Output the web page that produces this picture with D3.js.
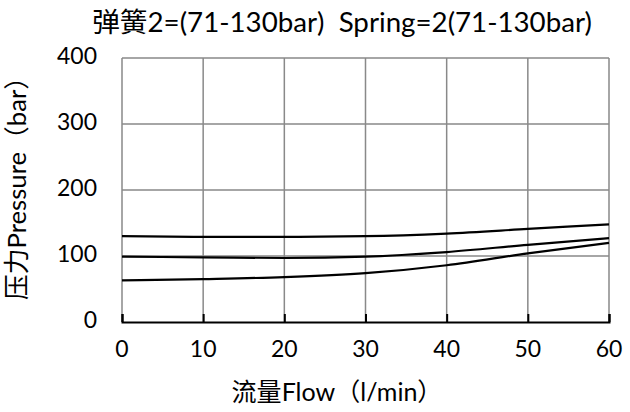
<!DOCTYPE html>
<html><head><meta charset="utf-8">
<script src="https://cdn.jsdelivr.net/npm/d3@7"></script>
<style>body{margin:0;background:#fff}</style>
</head><body>
<svg id="c" width="630" height="412"></svg>
<script>
const flow = [0, 10, 20, 30, 40, 50, 60];
const curveHigh = [130, 129, 129, 130, 134, 141, 148];
const curveMid = [99, 98, 97, 99, 106, 117, 127];
const curveLow = [63, 65, 68, 74, 86, 104, 120];
const xTicks = [0, 10, 20, 30, 40, 50, 60];
const yTicks = [0, 100, 200, 300, 400];
const title = "弹簧2=(71-130bar)  Spring=2(71-130bar)";
const xTitle = "流量Flow（l/min）";
const yTitle = "压力Pressure（bar）";

const svg = d3.select("#c");
const L = 122, R = 609, T = 58, B = 322;
const x = d3.scaleLinear().domain([0, 60]).range([L, R]);
const y = d3.scaleLinear().domain([0, 400]).range([B, T]);
const font = "Lato, 'Noto Sans CJK SC', sans-serif";

function fit(sel, target) {
  sel.attr("font-size", 20);
  const w = sel.node().getComputedTextLength();
  sel.attr("font-size", 20 * target / w);
}

// grid
svg.append("g").selectAll("line").data(xTicks).join("line")
  .attr("x1", d => x(d)).attr("x2", d => x(d)).attr("y1", T).attr("y2", B)
  .attr("stroke", "#898989").attr("stroke-width", 1.5);
svg.append("g").selectAll("line").data(yTicks.filter(d => d > 0)).join("line")
  .attr("x1", L).attr("x2", R).attr("y1", d => y(d)).attr("y2", d => y(d))
  .attr("stroke", "#898989").attr("stroke-width", 1.5);

// x axis (ticks inward)
const xa = svg.append("g").attr("transform", `translate(0,${B})`)
  .call(d3.axisTop(x).tickValues(xTicks).tickSize(8).tickFormat(""));
xa.select(".domain").attr("stroke", "#000").attr("stroke-width", 2);
xa.selectAll(".tick line").attr("stroke", "#000").attr("stroke-width", 2);

// tick font size from "400" width
const probe = svg.append("text").attr("font-family", font).text("400");
fit(probe, 40);
const tickSize = +probe.attr("font-size");
probe.remove();

svg.append("g").selectAll("text").data(xTicks).join("text")
  .attr("x", d => x(d)).attr("y", 351).attr("text-anchor", "middle")
  .attr("dominant-baseline", "middle")
  .attr("font-family", font).attr("font-size", tickSize).text(d => d);
svg.append("g").selectAll("text").data(yTicks).join("text")
  .attr("x", 97).attr("y", d => y(d)).attr("text-anchor", "end")
  .attr("dominant-baseline", "middle")
  .attr("font-family", font).attr("font-size", tickSize).text(d => d);

// curves
const line = d3.line().x((d, i) => x(flow[i])).y(d => y(d)).curve(d3.curveMonotoneX);
[curveHigh, curveMid, curveLow].forEach(s => {
  svg.append("path").datum(s).attr("d", line)
    .attr("fill", "none").attr("stroke", "#000").attr("stroke-width", 2.2);
});

// titles
const t = svg.append("text").attr("x", 342).attr("y", 32).attr("text-anchor", "middle")
  .attr("font-family", font).attr("xml:space", "preserve").text(title);
fit(t, 500);
const xt = svg.append("text").attr("x", 337).attr("y", 395).attr("text-anchor", "middle")
  .attr("dominant-baseline", "middle")
  .attr("font-family", font).text(xTitle);
fit(xt, 211);
const yt = svg.append("text").attr("transform", "translate(19,182) rotate(-90)")
  .attr("text-anchor", "middle").attr("dominant-baseline", "middle")
  .attr("font-family", font).text(yTitle);
fit(yt, 236);
</script>
</body></html>
